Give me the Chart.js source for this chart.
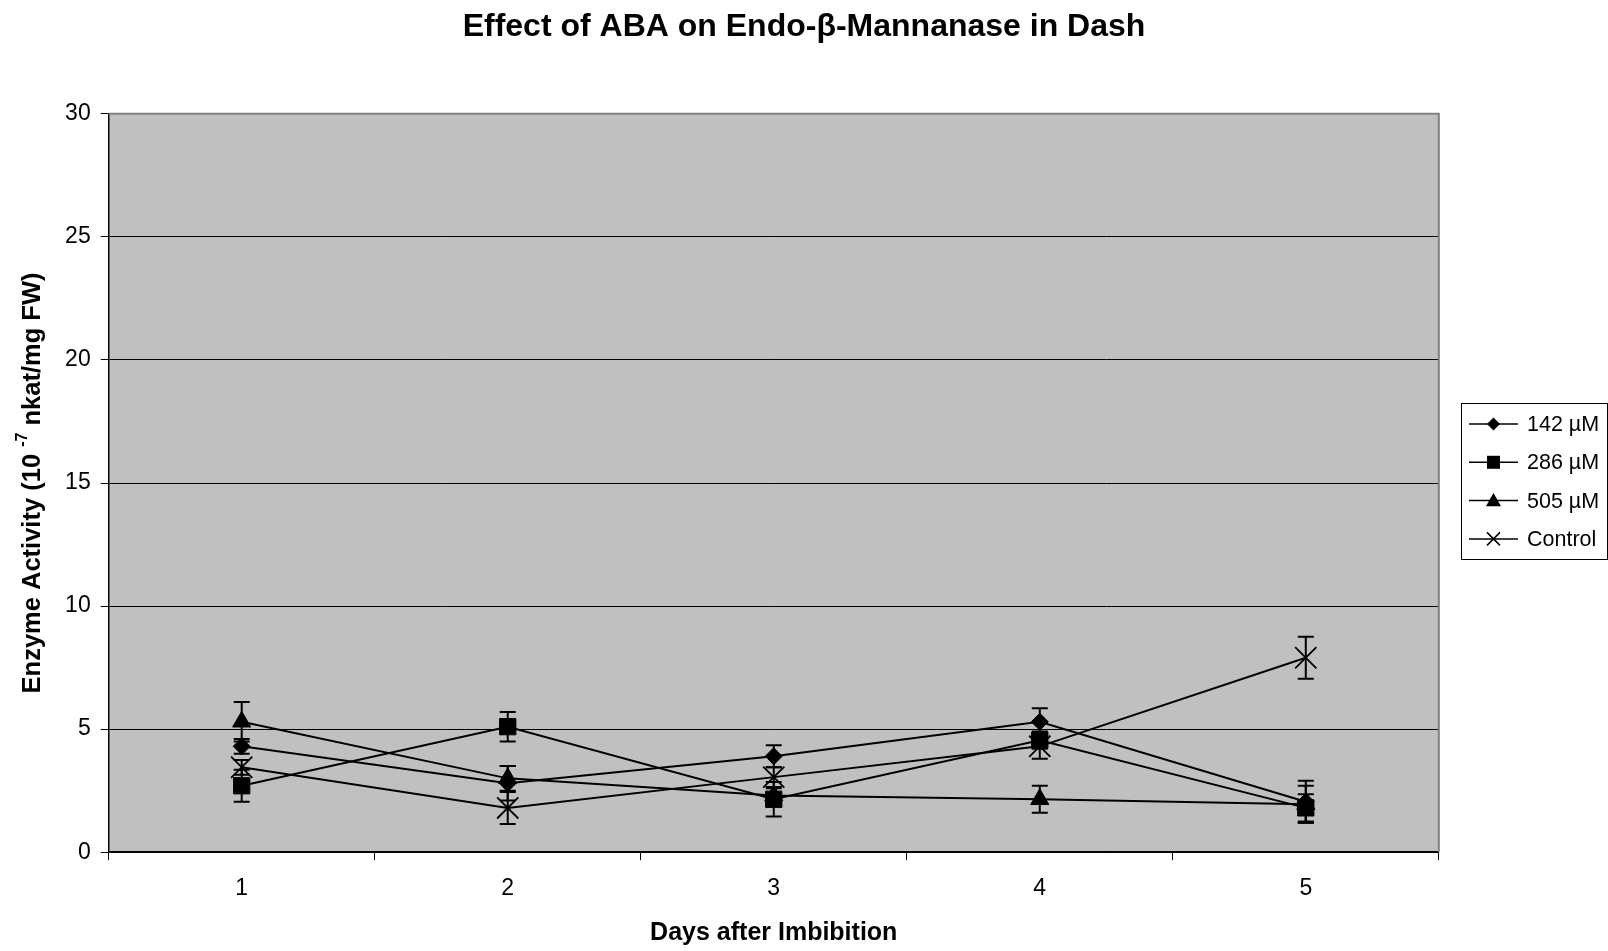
<!DOCTYPE html>
<html>
<head>
<meta charset="utf-8">
<script src="https://cdn.jsdelivr.net/npm/chart.js@4/dist/chart.umd.min.js"></script>
<style>
    html, body { margin: 0; padding: 0; background: #fff; }
    #wrap { width: 1608px; height: 951px; position: relative; }
</style>
</head>
<body>
<div id="wrap"><canvas id="chart" width="1608" height="951"></canvas></div>
<script>
// ==================== Data ====================

const days = ['1', '2', '3', '4', '5'];
const yTicks = [0, 5, 10, 15, 20, 25, 30];

const aba142 = [4.3, 2.8, 3.9, 5.3, 2.05];
const aba142Err = [0.3, 0.7, 0.45, 0.55, 0.85];
const aba286 = [2.7, 5.1, 2.15, 4.55, 1.8];
const aba286Err = [0.65, 0.6, 0.7, 0.35, 0.55];
const aba505 = [5.3, 3.0, 2.3, 2.15, 1.95];
const aba505Err = [0.8, 0.5, 0.3, 0.55, 0.75];
const control = [3.45, 1.8, 3.05, 4.3, 7.9];
const controlErr = [0.3, 0.65, 0.4, 0.5, 0.85];

const FONT = "'Liberation Sans', Arial, sans-serif";

// ==================== Plugins ====================

const plotBg = {
    id: 'plotBg',
    beforeDraw(chart) {
        const { ctx, chartArea: a } = chart;
        ctx.save();
        ctx.fillStyle = '#c0c0c0';
        ctx.fillRect(a.left, a.top, a.right - a.left, a.bottom - a.top);
        ctx.restore();
    },
    beforeDatasetsDraw(chart) {
        const { ctx, chartArea: a } = chart;
        ctx.save();
        ctx.strokeStyle = '#808080';
        ctx.lineWidth = 2;
        ctx.beginPath();
        ctx.moveTo(a.left, a.top);
        ctx.lineTo(a.right, a.top);
        ctx.lineTo(a.right, a.bottom);
        ctx.stroke();
        ctx.restore();
    }
};

const errorBars = {
    id: 'errorBars',
    afterDatasetsDraw(chart) {
        const { ctx } = chart;
        const y = chart.scales.y;
        ctx.save();
        ctx.strokeStyle = '#000';
        ctx.lineWidth = 2;
        chart.data.datasets.forEach((ds, di) => {
            const meta = chart.getDatasetMeta(di);
            ds.data.forEach((v, i) => {
                const e = ds.err[i];
                const px = meta.data[i].x;
                const top = y.getPixelForValue(v + e);
                const bot = y.getPixelForValue(v - e);
                ctx.beginPath();
                ctx.moveTo(px, top); ctx.lineTo(px, bot);
                ctx.moveTo(px - 8, top); ctx.lineTo(px + 8, top);
                ctx.moveTo(px - 8, bot); ctx.lineTo(px + 8, bot);
                ctx.stroke();
            });
        });
        ctx.restore();
    }
};

function drawMarker(ctx, style, x, y, r) {
    ctx.beginPath();
    if (style === 'rectRot') {
        ctx.moveTo(x, y - r); ctx.lineTo(x + r, y); ctx.lineTo(x, y + r); ctx.lineTo(x - r, y);
        ctx.closePath(); ctx.fill();
    } else if (style === 'rect') {
        ctx.rect(x - r, y - r, 2 * r, 2 * r); ctx.fill();
    } else if (style === 'triangle') {
        ctx.moveTo(x, y - r); ctx.lineTo(x + r, y + r * 0.75); ctx.lineTo(x - r, y + r * 0.75);
        ctx.closePath(); ctx.fill();
    } else {
        ctx.moveTo(x - r, y - r); ctx.lineTo(x + r, y + r);
        ctx.moveTo(x + r, y - r); ctx.lineTo(x - r, y + r);
        ctx.lineWidth = 1.5; ctx.stroke();
    }
}

const textLayer = {
    id: 'textLayer',
    afterDraw(chart) {
        const { ctx, chartArea: a } = chart;
        ctx.save();
        ctx.fillStyle = '#000';
        // title
        ctx.font = `bold 32px ${FONT}`;
        ctx.textAlign = 'center';
        ctx.textBaseline = 'middle';
        ctx.fillText('Effect of ABA on Endo-β-Mannanase in Dash', 804, 27);

        // y title with superscript
        const parts = [
            { t: 'Enzyme Activity (10 ', f: `bold 25.5px ${FONT}`, dy: 0 },
            { t: '-7', f: `bold 16px ${FONT}`, dy: -10 },
            { t: ' nkat/mg FW)', f: `bold 25.5px ${FONT}`, dy: 0 }
        ];
        let total = 0;
        parts.forEach(p => { ctx.font = p.f; p.w = ctx.measureText(p.t).width; total += p.w; });
        ctx.translate(33, (a.top + a.bottom) / 2);
        ctx.rotate(-Math.PI / 2);
        ctx.textAlign = 'left';
        let cx = -total / 2;
        parts.forEach(p => { ctx.font = p.f; ctx.fillText(p.t, cx, p.dy); cx += p.w; });
        ctx.restore();

        // legend
        ctx.save();
        ctx.strokeStyle = '#000';
        ctx.lineWidth = 1;
        ctx.strokeRect(1461.5, 403.5, 146, 156);
        ctx.font = `21.5px ${FONT}`;
        ctx.textBaseline = 'middle';
        ctx.textAlign = 'left';
        const lg = [['142 µM', 'rectRot', 6.5], ['286 µM', 'rect', 6.5], ['505 µM', 'triangle', 7.5], ['Control', 'crossRot', 6.5]];
        lg.forEach((it, i) => {
            const yy = 424 + i * 38.3;
            ctx.fillStyle = '#000';
            ctx.lineWidth = 1.5;
            ctx.beginPath();
            ctx.moveTo(1469, yy); ctx.lineTo(1518, yy);
            ctx.stroke();
            drawMarker(ctx, it[1], 1493.5, yy, it[2]);
            ctx.fillText(it[0], 1527, yy + 1);
        });
        ctx.restore();
    }
};

// ==================== Chart ====================

function series(label, data, err, style, radius) {
    return {
        label, data, err,
        borderColor: '#000',
        backgroundColor: '#000',
        borderWidth: 2,
        pointStyle: style,
        pointRadius: radius,
        pointBackgroundColor: '#000',
        pointBorderColor: '#000',
        pointBorderWidth: style === 'crossRot' ? 1.8 : 1,
        tension: 0
    };
}

new Chart(document.getElementById('chart'), {
    type: 'line',
    data: {
        labels: days,
        datasets: [
            series('142 µM', aba142, aba142Err, 'rectRot', 8.5),
            series('286 µM', aba286, aba286Err, 'rect', 11.5),
            series('505 µM', aba505, aba505Err, 'triangle', 10.5),
            series('Control', control, controlErr, 'crossRot', 15)
        ]
    },
    options: {
        responsive: false,
        animation: false,
        events: [],
        layout: { padding: { top: 113.8, right: 169.2, bottom: 0, left: 0 } },
        plugins: { legend: { display: false }, title: { display: false }, tooltip: { enabled: false } },
        scales: {
            x: {
                offset: true,
                grid: { offset: true, drawOnChartArea: false, drawTicks: true, tickLength: 8, color: '#000', tickColor: '#000' },
                border: { display: true, color: '#000', width: 1.5 },
                ticks: { color: '#000', font: { family: FONT, size: 23 }, padding: 15 },
                title: { display: true, text: 'Days after Imbibition', color: '#000', font: { family: FONT, size: 25, weight: 'bold' }, padding: { top: 0, bottom: 3 } },
                afterFit(scale) { scale.height = 98.8; }
            },
            y: {
                min: 0, max: 30,
                afterBuildTicks(scale) { scale.ticks = yTicks.map(v => ({ value: v })); },
                grid: {
                    color: c => (c.tick && c.tick.value === 30) ? 'rgba(0,0,0,0)' : '#000',
                    tickColor: '#000', lineWidth: 1, tickLength: 8
                },
                border: { display: true, color: '#000', width: 1.5 },
                ticks: { color: '#000', font: { family: FONT, size: 23 }, padding: 10 },
                afterFit(scale) { scale.width = 108.7; }
            }
        }
    },
    plugins: [plotBg, errorBars, textLayer]
});
</script>
</body>
</html>
